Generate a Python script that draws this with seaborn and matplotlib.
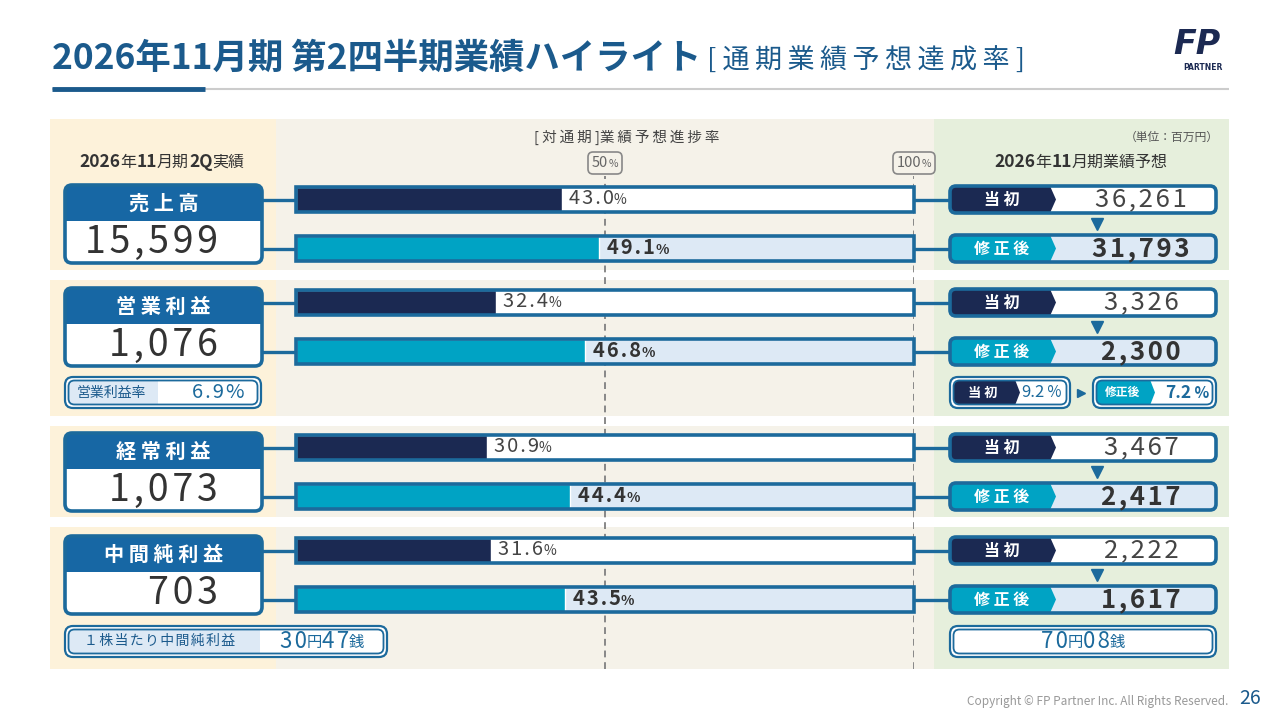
import pandas as pd
import matplotlib.pyplot as plt
import seaborn as sns
from matplotlib.patches import FancyBboxPatch, Rectangle, Polygon
from matplotlib.offsetbox import TextArea, HPacker, AnnotationBbox

# データ（単位：百万円）
metrics = ['売上高', '営業利益', '経常利益', '中間純利益']
actual_2q = [15599, 1076, 1073, 703]
plan_initial = [36261, 3326, 3467, 2222]
plan_revised = [31793, 2300, 2417, 1617]
series = ['当初', '修正後']
progress_initial = [43.0, 32.4, 30.9, 31.6]
progress_revised = [49.1, 46.8, 44.4, 43.5]
op_margin_actual = 6.9
op_margin_initial = 9.2
op_margin_revised = 7.2
eps_actual = ('30', '47')
eps_forecast = ('70', '08')

# 色
TITLE = '#1b5a8c'
NAVY = '#1b2952'
TEAL = '#00a3c4'
BORDER = '#1c6a9c'
HEAD = '#1767a4'
LIGHT = '#dde9f5'
CREAM = '#fdf2da'
BEIGE = '#f5f2e9'
GREEN = '#e6efdc'
DARK = '#333333'
GRAY = '#555555'

FAM = ['Noto Sans CJK JP', 'DejaVu Sans']

sns.set_theme(style='white')
plt.rcParams['font.family'] = FAM

W, H = 1280, 720
fig = plt.figure(figsize=(12.8, 7.2), dpi=100)
bg = fig.add_axes([0, 0, 1, 1], zorder=0)
bg.set_xlim(0, W)
bg.set_ylim(H, 0)
bg.axis('off')


def px_axes(x0, y0, x1, y1, z):
    return fig.add_axes([x0 / W, 1 - y1 / H, (x1 - x0) / W, (y1 - y0) / H], zorder=z)


def spaced(s, sep='\u2009'):
    return sep.join(s)


def mixed(ax, x, y, parts, align=(0, 0.5), coords='data', z=5, **kw):
    boxes = [TextArea(s, textprops=dict(fontsize=fs, color=c, fontweight=w, family=FAM))
             for s, fs, c, w in parts]
    pack = HPacker(children=boxes, align='baseline', pad=0, sep=0)
    ab = AnnotationBbox(pack, (x, y), xycoords=coords, box_alignment=align,
                        frameon=kw.pop('frameon', False), pad=kw.pop('pad', 0), zorder=z, **kw)
    ax.add_artist(ab)
    return ab


def rbox(x, y, w, h, r=7, **kw):
    p = FancyBboxPatch((x, y), w, h, boxstyle=f'round,pad=0,rounding_size={r}', **kw)
    bg.add_patch(p)
    return p


def double_box(x, y, w, h, split, split_fc, chevron=False):
    rbox(x, y, w, h, r=8, fc='white', ec=BORDER, lw=1.6)
    inner = rbox(x + 3.5, y + 3.5, w - 7, h - 7, r=6, fc='white', ec='none')
    if chevron:
        pts = [(x, y), (split - 6, y), (split, y + h / 2), (split - 6, y + h), (x, y + h)]
    else:
        pts = [(x, y), (split, y), (split, y + h), (x, y + h)]
    tag = Polygon(pts, closed=True, fc=split_fc, ec='none')
    bg.add_patch(tag)
    tag.set_clip_path(inner)
    rbox(x + 3.5, y + 3.5, w - 7, h - 7, r=6, fc='none', ec=BORDER, lw=1.3)


# 背景パネル
panel_y = [(119, 270), (280, 416), (426, 517), (527, 669)]
for t, b in panel_y:
    bg.add_patch(Rectangle((50, t), 226, b - t, fc=CREAM, ec='none'))
    bg.add_patch(Rectangle((276, t), 658, b - t, fc=BEIGE, ec='none'))
    bg.add_patch(Rectangle((934, t), 295, b - t, fc=GREEN, ec='none'))

# タイトル
mixed(bg, 52, 58, [('2026年11月期 第2四半期業績ハイライト', 25.5, TITLE, 'bold'),
                   (' [ ' + spaced('通期業績予想達成率') + ' ]', 19.5, TITLE, 'normal')])
bg.plot([52, 1229], [89, 89], color='#cccccc', lw=1.5, solid_capstyle='butt')
bg.plot([52, 205], [88.5, 88.5], color=TITLE, lw=3.5, solid_capstyle='butt')

# ロゴ
bg.text(1197, 44, 'FP', fontsize=24, fontstyle='italic', fontweight='bold', color=NAVY,
        ha='center', va='center', family=['DejaVu Sans'])
bg.text(1203, 67, 'PARTNER', fontsize=5.5, fontweight='bold', color=NAVY, ha='center', va='center',
        family=['DejaVu Sans'])

# 見出し
mixed(bg, 162, 162, [('2026', 12.5, DARK, 'bold'), ('年', 11.5, DARK, 'normal'), ('11', 12.5, DARK, 'bold'),
                     ('月期', 11.5, DARK, 'normal'), ('2Q', 12.5, DARK, 'bold'), ('実績', 11.5, DARK, 'normal')],
      align=(0.5, 0.5))
mixed(bg, 1081, 162, [('2026', 12.5, DARK, 'bold'), ('年', 11.5, DARK, 'normal'), ('11', 12.5, DARK, 'bold'),
                      ('月期業績予想', 11.5, DARK, 'normal')], align=(0.5, 0.5))
bg.text(627, 137, '[ ' + spaced('対通期') + ' ]' + spaced('業績予想進捗率'), ha='center', va='center',
        fontsize=10.5, color='#444444')
bg.text(1219, 137, '（単位：百万円）', ha='right', va='center', fontsize=8.5, color=GRAY)

# 50% / 100% ガイド
BAR_X0, BAR_X1 = 296, 914
gx = px_axes(BAR_X0, 176, BAR_X1, 669, z=1)
gx.set_xlim(0, 100)
gx.set_ylim(0, 1)
gx.axis('off')
for v in [50, 100]:
    gx.axvline(v, color='#888888', lw=1.4, ls=(0, (3.5, 2.5)))
    mixed(gx, v, 1.0, [(str(v), 10.5, '#666666', 'normal'), ('%', 7.5, '#666666', 'normal')],
          coords=('data', 'axes fraction'), align=(0.5, 0.5), xybox=(0, 9.5),
          boxcoords='offset points', frameon=True, pad=0.25,
          bboxprops=dict(boxstyle='round,pad=0.25,rounding_size=0.3', fc=BEIGE, ec='#888888', lw=1.2))

# 各指標
group_top = [187, 290, 435, 538]
BAR_H, BAR_GAP = 25, 24
w = BAR_H / (BAR_H + BAR_GAP)
for g, name in enumerate(metrics):
    top = group_top[g]
    yc = [top + BAR_H / 2, top + BAR_H + BAR_GAP + BAR_H / 2]

    # 進捗率バー
    ax = px_axes(BAR_X0, top, BAR_X1, top + 2 * BAR_H + BAR_GAP, z=2)
    df = pd.DataFrame({'series': series, 'progress': [progress_initial[g], progress_revised[g]]})
    sns.barplot(x=[100, 100], y=series, hue=series, palette=['white', LIGHT], width=w,
                saturation=1, legend=False, errorbar=None, ax=ax)
    sns.barplot(data=df, x='progress', y='series', hue='series', palette=[NAVY, TEAL], width=w,
                saturation=1, legend=False, errorbar=None, ax=ax)
    ax.barh([0, 1], [100, 100], height=w, fill=False, edgecolor=BORDER, lw=2.6,
            clip_on=False, zorder=4)
    ax.set_xlim(0, 100)
    ax.set_ylim(1 + w / 2, -w / 2)
    ax.axis('off')
    for i, row in df.iterrows():
        num = spaced(f"{row['progress']:.1f}", '\u200a')
        if i == 0:
            parts = [(num, 14.5, '#444444', 'normal'), ('%', 10, '#444444', 'normal')]
            off = 1.1
        else:
            parts = [(num, 14.5, DARK, 'bold'), ('%', 10, DARK, 'bold')]
            off = 1.3
        mixed(ax, row['progress'] + off, i, parts, align=(0, 0.45))

    # 左：2Q実績
    bt = top - 2
    rbox(65, bt, 197, 78, fc='white', ec='none')
    rbox(65, bt, 197, 36, fc=HEAD, ec='none')
    bg.add_patch(Rectangle((65, bt + 18), 197, 18, fc=HEAD, ec='none'))
    rbox(65, bt, 197, 78, fc='none', ec=BORDER, lw=2.6)
    bg.text(163.5, bt + 18, spaced(name, ' '), ha='center', va='center', fontsize=14.5,
            fontweight='bold', color='white')
    bg.text(218, bt + 57, spaced(f'{actual_2q[g]:,}', '\u200a'), ha='right', va='center',
            fontsize=27, color=DARK)
    for y in yc:
        bg.plot([262, BAR_X0], [y, y], color=BORDER, lw=2.4, solid_capstyle='butt', zorder=1)
        bg.plot([BAR_X1, 950], [y, y], color=BORDER, lw=2.4, solid_capstyle='butt', zorder=1)

    # 右：業績予想
    for i, (lab, val) in enumerate([(series[0], plan_initial[g]), (series[1], plan_revised[g])]):
        y0 = yc[i] - 13.5
        box = rbox(950, y0, 266, 27, r=6, fc='white' if i == 0 else LIGHT, ec='none')
        tag = Polygon([(950, y0), (1050, y0), (1056, y0 + 13.5), (1050, y0 + 27), (950, y0 + 27)],
                      closed=True, fc=NAVY if i == 0 else TEAL, ec='none')
        bg.add_patch(tag)
        tag.set_clip_path(box)
        rbox(950, y0, 266, 27, r=6, fc='none', ec=BORDER, lw=2.6)
        bg.text(1002, yc[i], spaced(lab, ' '), ha='center', va='center', fontsize=11.5,
                fontweight='bold', color='white')
        bg.text(1141, yc[i], spaced(f'{val:,}', '\u200a'), ha='center', va='center', fontsize=18.5,
                color='#444444' if i == 0 else DARK, fontweight='normal' if i == 0 else 'bold')
    bg.plot([1097], [top + 37], marker='v', ms=9, color=BORDER, mec=BORDER)

# 営業利益率
double_box(65, 377, 196, 31, 158, LIGHT)
bg.text(111, 392.5, '営業利益率', ha='center', va='center', fontsize=10, color=TITLE)
mixed(bg, 245, 392.5, [(spaced(f'{op_margin_actual:.1f}%', '\u200a'), 14.5, BORDER, 'normal')], align=(1, 0.5))

double_box(950, 377, 120, 31, 1020, NAVY, chevron=True)
bg.text(983, 392.5, spaced('当初', ' '), ha='center', va='center', fontsize=9.5,
        fontweight='bold', color='white')
mixed(bg, 1062, 392.5, [(f'{op_margin_initial:.1f}', 12, BORDER, 'normal'), (' %', 11, BORDER, 'normal')],
      align=(1, 0.5))
bg.plot([1081], [393], marker='>', ms=6, color=BORDER, mec=BORDER)
double_box(1093, 377, 123, 31, 1155, TEAL, chevron=True)
bg.text(1123, 392.5, '修正後', ha='center', va='center', fontsize=8.5, fontweight='bold', color='white')
mixed(bg, 1209, 392.5, [(f'{op_margin_revised:.1f}', 12.5, BORDER, 'bold'), (' %', 11, BORDER, 'bold')],
      align=(1, 0.5))

# 1株当たり中間純利益
double_box(65, 626, 322, 31, 260, LIGHT)
bg.text(160, 641, spaced('１株当たり中間純利益', '\u200a'), ha='center', va='center', fontsize=10,
        color=TITLE)
mixed(bg, 322, 641, [(spaced(eps_actual[0], '\u200a'), 16, BORDER, 'normal'), ('円', 11, BORDER, 'normal'),
                     (spaced(eps_actual[1], '\u200a'), 16, BORDER, 'normal'), ('銭', 11, BORDER, 'normal')],
      align=(0.5, 0.5))
double_box(950, 626, 266, 31, 950, 'white')
mixed(bg, 1083, 641, [(spaced(eps_forecast[0], '\u200a'), 16, BORDER, 'normal'), ('円', 11, BORDER, 'normal'),
                      (spaced(eps_forecast[1], '\u200a'), 16, BORDER, 'normal'), ('銭', 11, BORDER, 'normal')],
      align=(0.5, 0.5))

# フッター
bg.text(1228, 701, 'Copyright © FP Partner Inc. All Rights Reserved.', ha='right', va='center',
        fontsize=8.5, color='#999999')
bg.text(1250, 699, '26', ha='center', va='center', fontsize=14, color=TITLE)

fig.savefig('out.png', dpi=100)
